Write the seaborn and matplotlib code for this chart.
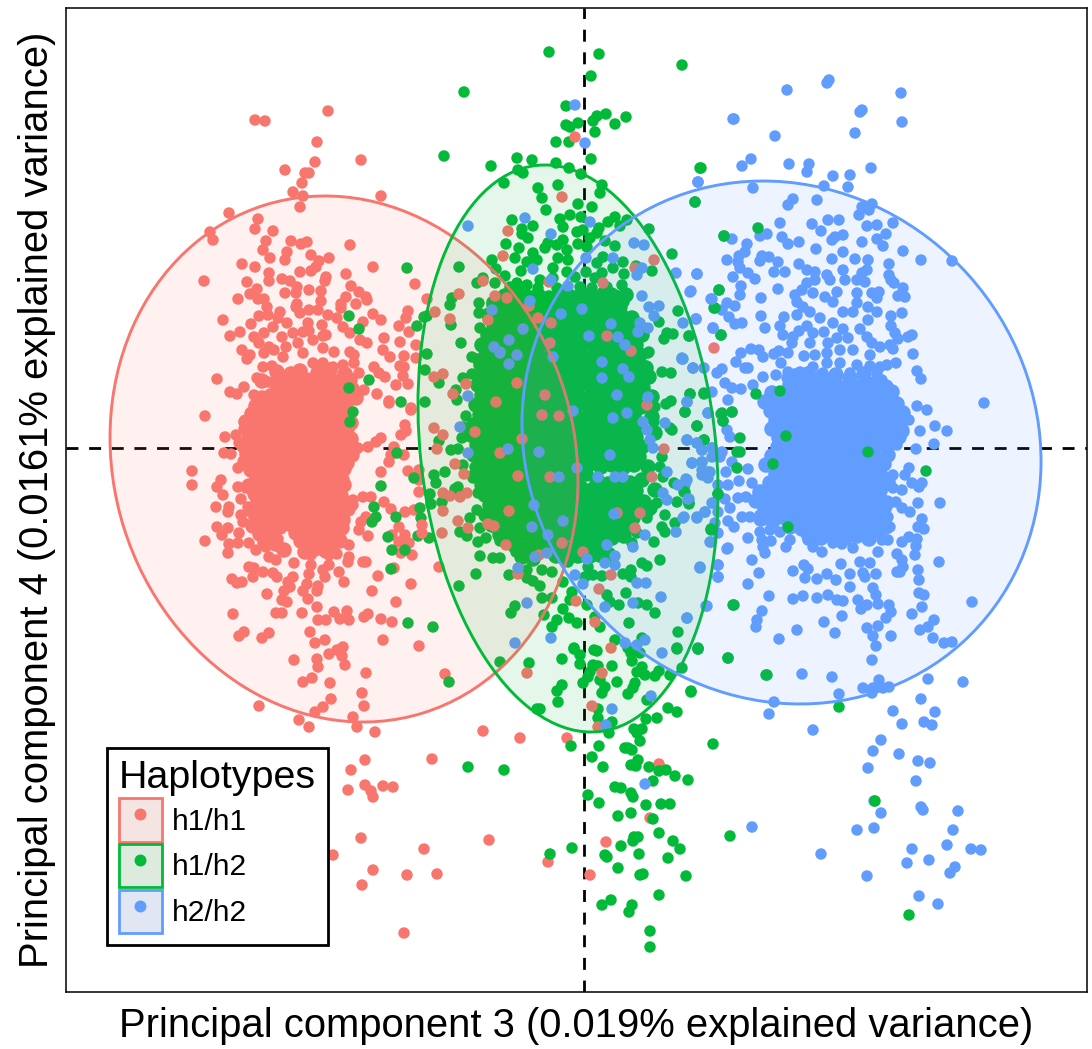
import numpy as np
import pandas as pd
import matplotlib
matplotlib.use("Agg")
import matplotlib.pyplot as plt
import seaborn as sns
from matplotlib.lines import Line2D
from matplotlib.patches import Ellipse, Patch
from matplotlib.legend_handler import HandlerTuple

# points as (x, y) picture positions, turned into scores below
h1h1_core = [
(277,372),(291,374),(300,371),(318,373),(330,370),(345,374),(262,381),(276,383),(284,379),(296,382),(307,380),(316,383),(327,379),(338,382),(350,380),
(282,390),(291,388),(301,391),(311,389),(320,392),(331,388),(341,391),(352,389),(262,398),(273,400),(286,397),(295,399),(305,396),(314,400),(325,398),(335,396),(344,400),(356,398),
(256,406),(266,408),(276,405),(285,407),(296,404),(306,408),(317,405),(326,407),(337,404),(346,408),(252,414),(262,412),(272,415),(282,413),(291,416),(301,412),(311,415),(321,413),(330,416),(340,412),(348,415),
(246,422),(256,424),(266,421),(275,423),(285,420),(295,424),(305,421),(314,423),(324,420),(333,424),(343,421),(351,423),(252,430),(261,432),(271,429),(280,431),(290,428),(300,432),(309,429),(319,431),(328,428),(338,432),(347,429),
(249,438),(258,440),(267,437),(277,439),(286,436),(296,440),(305,437),(315,439),(324,436),(334,440),(343,437),(351,439),(244,446),(254,448),(263,445),(272,447),(282,444),(292,448),(301,445),(311,447),(320,444),(330,448),(339,445),(348,447),
(247,454),(257,456),(267,453),(276,455),(286,452),(295,456),(305,453),(314,455),(324,452),(333,456),(343,453),(352,455),(245,462),(253,464),(262,461),(272,463),(281,460),(291,464),(300,461),(310,463),(319,460),(329,464),(338,461),(347,463),
(251,470),(259,472),(269,469),(278,471),(288,468),(297,472),(307,469),(316,471),(326,468),(335,472),(344,469),(257,478),(266,480),(276,477),(285,479),(295,476),(304,480),(314,477),(323,479),(333,476),(342,480),
(249,486),(261,488),(270,485),(280,487),(289,484),(299,488),(308,485),(318,487),(327,484),(337,488),(344,485),(255,494),(265,496),(274,493),(284,495),(293,492),(303,496),(312,493),(322,495),(331,492),(341,496),
(258,502),(268,504),(278,501),(287,503),(297,500),(306,504),(316,501),(325,503),(335,500),(344,504),(251,510),(262,512),(272,509),(281,511),(291,508),(300,512),(310,509),(319,511),(329,508),(339,512),(348,509),
(256,518),(267,520),(276,517),(286,519),(295,516),(305,520),(314,517),(324,519),(333,516),(343,520),(253,526),(262,528),(272,525),(280,527),(290,524),(300,528),(310,525),(320,527),(330,524),(342,528),
(260,534),(270,536),(296,533),(306,537),(316,534),(326,536),(338,533),(265,542),(276,544),(301,541),(312,545),(322,542),(332,544),(340,541),(284,550),(305,552),(315,549),(326,551),
]
h1h1_pts = [
(328,111),(255,120),(265,121),(317,142),(315,162),(361,160),(285,170),(305,173),(309,173),(302,183),(293,192),(303,196),(381,196),(300,207),(229,213),(258,219),(210,232),(213,240),(255,229),(273,231),
(266,241),(263,250),(270,258),(291,241),(301,244),(307,242),(287,252),(285,260),(311,255),(319,261),(329,258),(350,245),(242,264),(255,267),(269,273),(269,281),(373,267),(346,274),(204,281),(247,282),
(300,272),(311,271),(316,267),(326,277),(325,281),(282,279),(290,281),(351,286),(359,292),(366,297),(367,300),(415,284),(257,289),(250,294),(238,299),(258,299),(264,299),(297,287),(285,293),(296,293),
(309,290),(321,291),(321,301),(346,297),(341,304),(341,308),(356,304),(297,304),(296,307),(267,307),(280,312),(268,315),(259,316),(278,318),(309,310),(318,310),(328,315),(337,318),(373,314),(381,320),
(363,322),(408,311),(406,318),(399,326),(409,332),(223,320),(251,324),(287,323),(300,313),(308,323),(322,325),(343,327),(350,333),(240,332),(230,336),(254,337),(264,333),(273,327),(282,337),(293,333),
(303,332),(309,331),(323,336),(326,335),(313,340),(360,340),(367,343),(384,338),(400,342),(416,345),(383,350),(390,357),(404,356),(416,358),(242,350),(250,355),(247,359),(259,343),(269,347),(264,353),
(274,350),(286,347),(298,343),(283,357),(303,353),(323,348),(334,352),(350,352),(354,355),(354,363),(400,366),(404,367),(403,376),(408,384),(396,385),(374,367),(379,373),(385,377),(359,373),(263,367),
(272,366),(257,378),(268,382),(343,365),(333,367),(323,363),(313,363),(217,379),(244,387),(230,392),(237,394),(254,395),(270,394),(377,394),(389,401),(411,408),(364,390),(349,382),(328,387),
(205,416),(411,410),(405,425),(406,431),(401,435),(389,403),(225,437),(244,429),(236,435),(239,443),(248,440),(224,453),(231,454),(238,468),(192,471),(192,485),(221,480),(217,487),(223,495),(216,507),
(229,507),(228,512),(238,487),(246,488),(241,499),(248,507),(241,515),(243,522),(217,527),(228,528),(222,535),(239,533),(205,541),(229,544),(238,543),(228,553),(249,543),(256,550),(266,547),(278,539),
(269,557),(276,560),(294,563),(311,565),(311,555),(329,555),(337,554),(349,557),(348,562),(349,545),(363,562),(366,562),(249,567),(254,568),(253,577),(263,572),(273,573),(277,577),(232,579),(237,583),
(242,582),(293,577),(288,582),(290,587),(284,591),(309,574),(307,584),(303,591),(318,586),(317,591),(323,570),(329,565),(339,572),(325,577),(344,582),(267,594),(282,600),(287,602),(308,599),(317,607),
(233,614),(276,613),(282,613),(302,613),(334,612),(347,611),(340,619),(349,620),(318,620),(326,620),(368,614),(364,617),(381,619),(392,622),(372,591),(378,576),(411,584),(396,602),(414,510),(405,512),
(239,636),(244,632),(262,638),(269,633),(310,632),(315,643),(325,640),(383,640),(419,646),(343,647),(337,650),(329,654),(342,656),(345,665),(294,660),(317,659),(318,667),(366,673),(303,682),(312,678),
(330,683),(362,693),(331,699),(364,706),(259,706),(315,712),(323,707),(353,717),(299,720),(309,727),(357,727),(375,732),(404,455),(391,455),(394,447),(376,442),(381,438),(368,447),(358,448),(389,462),
(381,472),(408,471),(419,470),(419,492),(419,480),(363,497),(371,497),(353,500),(353,505),(384,502),(391,509),(366,517),(361,522),(359,530),(368,536),(399,527),(405,535),(399,542),(409,543),(401,553),
(412,555),(394,568),(392,535),(445,674),(483,731),(520,738),(432,759),(365,760),(351,770),(348,790),(365,785),(371,791),(373,797),(383,786),(393,787),(361,838),(489,840),(424,849),(333,855),(373,870),
(407,875),(437,874),(362,885),(404,933),(548,862),(567,738),(659,764),(650,818),(606,842),(590,875),
]
h2h2_core = [
(795,376),(808,374),(822,377),(836,375),(850,378),(864,374),(790,385),(802,383),(814,386),(826,384),(838,387),(850,383),(862,386),(874,384),(886,387),(772,393),(784,395),(796,392),(808,395),(820,393),(832,396),(844,392),(856,395),(868,393),(880,396),(892,392),
(765,402),(777,404),(789,401),(801,404),(813,402),(825,405),(837,401),(849,404),(861,402),(873,405),(885,401),(897,404),(771,411),(783,413),(795,410),(807,413),(819,411),(831,414),(843,410),(855,413),(867,411),(879,414),(891,410),(903,413),
(776,420),(788,422),(800,419),(812,422),(824,420),(836,423),(848,419),(860,422),(872,420),(884,423),(896,419),(772,429),(784,431),(796,428),(808,431),(820,429),(832,432),(844,428),(856,431),(868,429),(880,432),(892,428),(902,431),
(779,438),(791,440),(803,437),(815,440),(827,438),(839,441),(851,437),(863,440),(875,438),(887,441),(899,437),(778,447),(790,449),(802,446),(814,449),(826,447),(838,450),(850,446),(862,449),(874,447),(886,445),
(772,456),(784,458),(796,455),(808,458),(820,456),(832,459),(844,455),(856,458),(868,456),(880,459),(888,455),(766,465),(778,467),(790,464),(802,467),(814,465),(826,468),(838,464),(850,467),(862,465),(874,468),(884,464),
(776,474),(788,476),(800,473),(812,476),(824,474),(836,477),(848,473),(860,476),(872,474),(882,477),(770,483),(782,485),(794,482),(806,485),(818,483),(830,486),(842,482),(854,485),(866,483),(878,486),(888,482),
(760,492),(772,494),(784,491),(796,494),(808,492),(820,495),(832,491),(844,494),(856,492),(868,495),(880,491),(756,501),(768,503),(780,500),(792,503),(804,501),(816,504),(828,500),(840,503),(852,501),(864,504),(876,500),(887,503),
(765,510),(777,512),(789,509),(801,512),(813,510),(825,513),(837,509),(849,512),(861,510),(873,513),(884,509),(761,519),(773,521),(785,518),(797,521),(809,519),(821,522),(833,518),(845,521),(857,519),(869,522),(880,518),
(790,527),(802,529),(814,526),(826,529),(838,527),(850,530),(862,526),(874,529),(886,527),(809,536),(821,538),(833,535),(845,538),(857,536),(869,539),
]
h2h2_pts = [
(787,90),(827,83),(829,80),(901,93),(860,112),(862,110),(733,119),(902,122),(855,133),(775,136),(751,159),(742,166),(789,164),(809,164),(807,172),(833,176),(850,175),(871,168),(698,182),(753,188),
(824,186),(848,187),(793,199),(788,205),(817,200),(862,207),(872,204),(869,210),(859,215),(780,223),(812,224),(828,220),(839,220),(821,231),(867,226),(877,225),(893,223),(760,236),(767,234),(782,237),
(788,244),(799,242),(732,239),(747,244),(832,240),(835,237),(843,235),(862,242),(877,239),(886,234),(883,246),(745,252),(739,256),(727,260),(738,262),(760,261),(762,256),(769,257),(778,262),(816,249),
(843,252),(832,259),(855,259),(868,260),(903,251),(921,260),(952,261),(889,264),(740,268),(748,273),(755,279),(733,277),(697,274),(774,272),(785,272),(799,264),(807,270),(843,270),(867,270),(862,273),
(889,275),(891,280),(894,283),(741,286),(778,289),(691,291),(815,272),(827,275),(815,280),(807,283),(830,280),(845,280),(857,280),(865,282),(903,288),(711,299),(740,295),(727,303),(735,306),(761,298),
(795,295),(802,290),(813,293),(825,297),(837,292),(857,293),(879,292),(872,293),(898,296),(905,297),(877,298),(722,310),(729,317),(761,316),(797,302),(803,307),(797,315),(810,312),(820,318),(833,302),
(843,312),(857,303),(868,307),(877,312),(853,312),(891,316),(902,313),(696,319),(735,324),(742,323),(713,328),(784,317),(765,328),(780,326),(783,335),(807,326),(799,331),(813,333),(824,332),(833,323),
(843,329),(860,329),(868,320),(891,326),(895,333),(898,339),(908,337),(912,335),(793,337),(792,343),(810,343),(867,337),(872,343),(880,347),(890,345),(893,349),(848,338),(837,338),(828,343),(741,353),
(751,349),(759,350),(763,357),(736,362),(774,354),(779,351),(788,353),(781,363),(804,356),(870,355),(913,354),(815,355),(827,353),(840,350),(853,350),(683,359),(693,368),(704,368),(722,369),(717,373),
(745,368),(748,368),(788,372),(800,372),(813,367),(827,363),(840,363),(857,365),(870,366),(880,367),(887,365),(896,363),(917,371),(921,379),(725,383),(732,388),(741,389),(712,392),(753,385),(763,377),
(776,375),(787,378),(797,380),(810,377),(823,373),(837,373),(850,373),(863,375),(882,380),(877,373),(728,400),(687,402),(984,403),(917,406),(927,410),(935,426),(947,431),(920,431),(934,444),(916,449),
(909,420),(902,423),(900,433),(897,445),(887,422),(708,413),(727,430),(730,437),(687,440),(697,443),(702,450),(712,448),(722,452),(720,457),(692,463),(702,462),(732,462),(702,470),(710,472),(708,478),
(726,472),(748,469),(739,481),(728,485),(718,485),(686,479),(685,485),(909,468),(905,475),(893,475),(912,483),(922,483),(919,487),(902,490),(893,488),(883,488),(752,483),(725,499),(738,498),(746,497),
(730,508),(689,499),(713,503),(757,502),(940,503),(918,503),(910,512),(902,508),(896,502),(922,519),(918,527),(924,529),(705,512),(697,517),(684,517),(718,512),(728,521),(734,527),(742,517),(750,517),
(760,515),(770,515),(775,517),(715,523),(718,533),(711,542),(728,548),(748,538),(760,532),(770,530),(780,532),(762,540),(771,541),(763,547),(765,553),(790,540),(786,547),(813,547),(822,552),(808,540),
(833,543),(842,544),(853,548),(857,535),(870,540),(882,540),(888,540),(878,552),(880,533),(890,527),(888,517),(902,542),(909,537),(917,539),(916,546),(915,555),(897,554),(902,560),(903,567),(897,572),
(900,572),(918,570),(919,580),(752,560),(718,565),(700,568),(718,577),(759,573),(748,584),(804,565),(808,569),(793,571),(805,578),(817,579),(827,574),(836,580),(841,564),(850,574),(860,562),(870,563),
(863,573),(865,577),(876,574),(850,587),(873,588),(939,562),(769,596),(793,599),(803,596),(817,598),(828,595),(837,600),(843,601),(858,600),(876,595),(878,604),(867,605),(861,609),(889,605),(891,612),
(919,593),(924,595),(922,607),(972,602),(912,614),(706,606),(762,611),(842,616),(886,618),(934,620),(928,627),(920,630),(687,618),(757,620),(756,627),(797,630),(824,622),(835,633),(867,628),(878,626),
(873,636),(891,636),(779,639),(876,646),(933,638),(944,643),(952,642),(872,660),(802,674),(832,677),(879,680),(863,688),(873,688),(883,688),(889,687),(872,693),(839,694),(928,679),(963,682),(774,702),
(769,714),(921,699),(893,711),(935,712),(902,724),(924,722),(932,725),(813,730),(881,740),(873,751),(868,768),(899,754),(918,761),(930,763),(916,781),(752,827),(921,807),(923,810),(958,811),(874,801),
(881,813),(857,830),(874,828),(953,830),(947,845),(912,849),(971,849),(981,850),(821,854),(907,863),(929,860),(955,867),(950,873),(867,876),(919,896),(938,904),
]
h1h2_core = [
(505,296),(516,294),(527,297),(538,295),(549,298),(560,294),(571,297),(582,295),(593,298),(604,294),(615,297),(626,295),(494,305),(505,307),(516,304),(527,307),(538,305),(549,308),(560,304),(571,307),(582,305),(593,308),(604,304),(615,307),
(489,315),(500,317),(511,314),(522,317),(533,315),(544,318),(555,314),(566,317),(577,315),(588,318),(599,314),(610,317),(621,315),(632,318),(494,325),(505,327),(516,324),(527,327),(538,325),(549,328),(560,324),(571,327),(582,325),(593,328),(604,324),(615,327),(626,325),
(488,335),(499,337),(510,334),(521,337),(532,335),(543,338),(554,334),(565,337),(576,335),(587,338),(598,334),(609,337),(620,335),(631,338),(642,335),(482,345),(493,347),(504,344),(515,347),(526,345),(537,348),(548,344),(559,347),(570,345),(581,348),(592,344),(603,347),(614,345),(625,348),(636,345),
(486,355),(497,357),(508,354),(519,357),(530,355),(541,358),(552,354),(563,357),(574,355),(585,358),(596,354),(607,357),(618,355),(629,358),(640,355),(481,365),(492,367),(503,364),(514,367),(525,365),(536,368),(547,364),(558,367),(569,365),(580,368),(591,364),(602,367),(613,365),(624,368),(635,365),(646,368),
(484,375),(495,377),(506,374),(517,377),(528,375),(539,378),(550,374),(561,377),(572,375),(583,378),(594,374),(605,377),(616,375),(627,378),(638,375),(649,377),(478,385),(489,387),(500,384),(511,387),(522,385),(533,388),(544,384),(555,387),(566,385),(577,388),(588,384),(599,387),(610,385),(621,388),(632,385),(643,388),
(482,395),(493,397),(504,394),(515,397),(526,395),(537,398),(548,394),(559,397),(570,395),(581,398),(592,394),(603,397),(614,395),(625,398),(636,395),(652,397),(476,405),(487,407),(498,404),(509,407),(520,405),(531,408),(542,404),(553,407),(564,405),(575,408),(586,404),(597,407),(608,405),(619,408),(630,405),(641,407),
(480,415),(491,417),(502,414),(513,417),(524,415),(535,418),(546,414),(557,417),(568,415),(579,418),(590,414),(601,417),(612,415),(623,418),(634,415),(652,417),(474,425),(485,427),(496,424),(507,427),(518,425),(529,428),(540,424),(551,427),(562,425),(573,428),(584,424),(595,427),(606,425),(617,428),(628,425),(639,427),
(471,435),(482,437),(493,434),(504,437),(515,435),(526,438),(537,434),(548,437),(559,435),(570,438),(581,434),(592,437),(603,435),(614,438),(625,435),(636,437),(655,433),(477,445),(488,447),(499,444),(510,447),(521,445),(532,448),(543,444),(554,447),(565,445),(576,448),(587,444),(598,447),(609,445),(620,448),(631,445),(642,447),
(474,455),(485,457),(496,454),(507,457),(518,455),(529,458),(540,454),(551,457),(562,455),(573,458),(584,454),(595,457),(606,455),(617,458),(628,455),(639,457),(480,465),(491,467),(502,464),(513,467),(524,465),(535,468),(546,464),(557,467),(568,465),(579,468),(590,464),(601,467),(612,465),(623,468),(634,465),(648,467),
(476,475),(487,477),(498,474),(509,477),(520,475),(531,478),(542,474),(553,477),(564,475),(575,478),(586,474),(597,480),(608,484),(619,486),(630,483),(642,480),(482,485),(493,487),(504,484),(515,487),(526,485),(537,488),(548,484),(559,487),(570,485),(581,488),(592,490),(603,492),(614,494),(625,493),(636,491),(655,490),
(485,495),(496,497),(507,494),(518,497),(529,495),(540,498),(551,494),(562,497),(573,495),(584,498),(596,501),(608,503),(620,502),(632,500),(644,502),(490,505),(501,507),(512,504),(523,507),(534,505),(545,508),(556,504),(567,507),(578,505),(589,510),(601,512),(613,512),(625,511),(637,510),(650,508),
(486,515),(497,517),(508,514),(519,517),(530,515),(541,518),(552,514),(563,517),(574,515),(585,519),(597,521),(609,521),(621,520),(633,518),(492,525),(503,527),(514,524),(525,527),(536,525),(547,528),(558,524),(569,527),(580,525),(591,529),(603,530),(615,530),(627,527),
(500,535),(511,537),(522,534),(533,537),(544,535),(555,538),(566,534),(577,537),(588,535),(600,539),(612,538),(624,536),(515,546),(526,548),(537,545),(548,548),(559,546),(570,549),(581,545),(592,548),(604,546),(522,557),(533,559),(556,556),(567,559),(578,556),(590,556),(600,555),
]
h1h2_pts = [
(549,52),(599,54),(682,65),(591,76),(464,92),(566,106),(626,117),(606,114),(597,116),(593,121),(615,124),(578,123),(570,127),(566,125),(595,132),(556,142),(569,142),(444,156),(517,158),(532,160),
(591,159),(556,163),(491,166),(569,168),(518,170),(523,173),(581,174),(701,168),(504,183),(538,188),(558,185),(602,185),(600,193),(542,198),(578,204),(592,207),(695,202),(546,210),(570,215),(560,219),
(581,217),(615,217),(608,222),(627,220),(512,220),(533,226),(563,227),(522,229),(522,234),(577,232),(583,230),(599,228),(597,233),(620,226),(649,229),(724,236),(528,238),(506,244),(563,240),(548,243),
(578,244),(590,238),(605,241),(615,246),(672,254),(519,248),(515,258),(533,253),(545,248),(557,245),(567,250),(587,247),(603,257),(492,260),(537,260),(558,258),(568,260),(623,262),(459,267),(496,269),
(521,271),(527,262),(553,268),(567,272),(586,272),(597,263),(602,273),(613,268),(624,274),(652,271),(636,266),(505,276),(483,278),(477,283),(495,283),(517,283),(527,285),(540,280),(553,278),(575,277),
(595,278),(622,285),(607,287),(510,287),(520,292),(538,288),(557,288),(580,287),(719,290),(592,288),(612,293),(452,298),(450,305),(479,303),(479,313),(427,316),(451,325),(480,328),(492,302),(498,317),
(507,307),(507,327),(497,333),(461,343),(427,354),(472,357),(488,347),(498,342),(517,342),(678,311),(659,322),(673,334),(667,333),(664,339),(689,336),(721,335),(715,308),(649,352),(631,327),(632,342),
(622,307),(624,302),(477,359),(648,353),(425,370),(662,372),(671,373),(642,373),(645,366),(472,374),(463,378),(439,383),(438,378),(483,382),(456,390),(457,400),(425,402),(690,394),(704,393),(671,401),
(666,404),(685,412),(655,407),(466,416),(722,413),(723,421),(732,412),(697,426),(463,427),(479,429),(484,421),(654,422),(670,428),(672,430),(704,440),(439,441),(462,438),(451,450),(458,449),(737,452),
(463,465),(445,472),(434,475),(436,483),(458,487),(455,489),(475,467),(473,478),(478,493),(477,510),(430,494),(442,502),(431,504),(470,518),(460,532),(467,536),(480,528),(478,542),(486,538),(429,538),
(480,556),(493,558),(500,558),(516,552),(500,541),(476,574),(509,575),(459,586),(527,570),(527,578),(533,581),(540,586),(542,570),(552,572),(433,627),(662,457),(660,467),(663,477),(674,483),(684,492),
(677,502),(689,503),(657,503),(665,515),(675,523),(662,527),(665,532),(648,513),(647,518),(633,527),(637,533),(632,543),(654,542),(711,529),(718,494),(733,605),(660,560),(642,563),(647,566),(631,570),
(623,574),(631,577),(610,553),(612,560),(588,567),(585,577),(593,575),(602,576),(568,562),(563,582),(572,592),(570,600),(552,598),(542,598),(626,593),(607,595),(610,602),(619,605),(638,603),(647,605),
(655,613),(515,606),(511,613),(544,615),(563,609),(557,620),(569,618),(577,623),(552,627),(587,605),(600,627),(595,617),(629,623),(678,632),(615,640),(642,638),(574,648),(594,650),(628,648),(677,648),(698,648),
(574,649),(597,651),(562,659),(580,655),(580,664),(631,653),(677,649),(698,649),(728,658),(640,653),(632,661),(612,666),(593,665),(598,666),(590,672),(588,677),(583,683),(600,680),(617,682),(642,667),
(637,672),(645,675),(655,676),(659,671),(670,675),(682,668),(766,675),(562,685),(557,691),(635,683),(605,687),(633,688),(602,693),(628,694),(558,702),(691,691),(647,700),(839,707),(668,708),(677,712),
(598,709),(540,709),(646,719),(657,718),(598,718),(612,722),(634,729),(642,729),(609,733),(637,733),(640,741),(571,746),(599,746),(713,744),(625,748),(628,748),(632,750),(592,757),(638,760),(603,767),
(631,765),(636,766),(649,767),(659,771),(666,770),(675,776),(688,780),(653,781),(615,787),(621,788),(631,793),(633,797),(588,795),(599,803),(646,805),(661,804),(670,804),(631,813),(618,816),(653,819),
(659,833),(730,836),(673,841),(638,837),(634,837),(633,841),(621,846),(572,848),(550,854),(680,849),(605,855),(607,857),(639,854),(668,858),(618,868),(640,875),(643,874),(686,876),(659,895),(611,900),
(602,905),(632,905),(629,912),(650,931),(650,947),(875,801),(909,915),(500,662),(529,663),(449,682),(537,709),(468,767),(504,770),
(407,268),(349,316),(359,329),(369,380),(349,388),(417,326),(401,402),(424,317),(353,412),(350,422),(397,453),(381,486),(374,507),(376,517),(372,522),(396,517),(388,537),(392,550),(391,569),(408,623),
(405,550),(420,508),(421,518),(418,536),(414,478),(700,168),(695,202),(758,228),(724,236),(719,290),(714,308),(721,335),(689,336),(690,394),(704,394),(756,394),(780,391),(685,412),(721,414),(732,412),
(723,421),(697,426),(704,440),(740,438),(740,452),(868,452),(926,471),(737,468),(773,464),(786,436),(685,492),(689,504),(718,494),(788,527),(711,530),(734,605),(698,649),(728,658),(767,675),(691,692),
]
# these ones sit on top of the green cloud
h1h1_top = [
(575,137),(562,197),(508,231),(503,256),(654,260),(635,268),(549,282),(483,281),(459,294),(495,296),(507,298),(427,299),(435,312),(450,319),(488,320),(538,318),(551,323),(529,306),(607,336),(631,351),
(714,348),(550,343),(603,283),(443,374),(434,377),(466,384),(453,394),(496,402),(517,383),(545,395),(542,415),(559,416),(647,405),(434,428),(443,435),(437,449),(475,432),(522,439),(500,453),(664,449),
(455,464),(464,474),(518,476),(652,477),(443,493),(450,496),(460,497),(467,493),(443,511),(509,511),(458,521),(488,524),(494,526),(468,528),(442,533),(422,525),(422,533),(635,528),(506,545),(562,543),
(539,555),(583,552),(439,567),(518,574),(611,575),(599,589),(576,601),(595,622),(611,648),(550,477),(640,513),(617,513),(527,673),(602,673),(592,706),(598,727),
]
h2h2_top = [
(575,105),(585,143),(468,226),(525,218),(590,222),(551,234),(533,269),(586,258),(613,258),(634,243),(644,245),(698,182),(734,119),(642,268),(637,275),(551,280),(568,286),(642,296),(530,301),(649,307),
(659,306),(654,316),(492,310),(582,309),(561,314),(611,324),(640,323),(648,328),(683,323),(696,319),(589,336),(618,337),(638,332),(625,345),(523,329),(494,347),(500,352),(509,340),(517,355),(553,357),
(682,358),(676,273),(697,274),(690,292),(712,299),(713,328),(682,359),(693,368),(500,353),(509,364),(602,362),(623,369),(629,377),(602,378),(468,396),(617,395),(648,397),(687,402),(573,411),(613,418),
(627,413),(643,422),(665,423),(647,430),(460,427),(708,413),(539,452),(508,449),(468,453),(610,455),(653,448),(650,440),(687,440),(697,443),(702,450),(712,448),(692,463),(702,462),(712,457),(577,468),
(598,477),(615,477),(623,477),(559,477),(667,472),(687,480),(678,485),(708,472),(702,475),(663,493),(667,500),(688,499),(712,503),(705,512),(697,518),(683,518),(614,514),(534,505),(563,521),(532,527),
(548,535),(676,532),(645,535),(633,547),(547,553),(535,557),(587,559),(607,545),(605,563),(615,556),(615,565),(700,567),(718,565),(718,577),(727,549),(710,542),(518,568),(575,575),(583,584),(637,583),
(646,583),(661,597),(527,603),(605,607),(633,603),(707,606),(687,618),(551,638),(515,643),(625,643),(645,640),(637,645),(662,653),(651,696),(612,709),(606,725),(645,784),
]

groups = ["h1/h1", "h1/h2", "h2/h2"]
colors = ["#F8766D", "#00BA38", "#619CFF"]
key_fills = ["#F4E4E2", "#DCEBDD", "#E0E7F3"]

# draw order matters, seaborn keeps the row order
layers = [
    ("h1/h1", "core", h1h1_core),
    ("h1/h1", "single", h1h1_pts),
    ("h2/h2", "core", h2h2_core),
    ("h2/h2", "single", h2h2_pts),
    ("h1/h2", "core", h1h2_core),
    ("h1/h2", "single", h1h2_pts),
    ("h1/h1", "single", h1h1_top),
    ("h2/h2", "single", h2h2_top),
]
frames = []
for name, kind, pts in layers:
    d = pd.DataFrame(pts, columns=["px", "py"])
    d["haplotype"] = name
    d["kind"] = kind
    frames.append(d)
df = pd.concat(frames, ignore_index=True)
df["pc3"] = df["px"] - 584.0
df["pc4"] = 448.0 - df["py"]

# 95% ellipses: centre, full axes, angle
ell_center = [(344, 459), (568, 448.5), (781.5, 442.5)]
ell_width = [532, 569.6, 539.4]
ell_height = [461.2, 295.2, 502]
ell_angle = [-72.6, -83.65, -48]

W, H = 1092, 1049
sns.set_style("white")
plt.rcParams["font.family"] = ["Liberation Sans", "DejaVu Sans"]
plt.rcParams["text.color"] = "black"
plt.rcParams["axes.labelcolor"] = "black"

fig = plt.figure(figsize=(W / 100, H / 100), dpi=100)
ax = fig.add_axes([66 / W, 1 - 992 / H, (1087 - 66) / W, (992 - 8) / H])

ax.axhline(0, color="black", lw=2, dashes=(4.3, 3.85), zorder=1)
ax.axvline(0, color="black", lw=2, dashes=(4.3, 3.85), zorder=1)

# the dense middles are drawn with wider dots so the clouds close up
sns.scatterplot(data=df, x="pc3", y="pc4", hue="haplotype", hue_order=groups, palette=colors,
                size="kind", sizes={"core": 125, "single": 68}, linewidth=0, alpha=1,
                legend=False, ax=ax, zorder=2)

for i in range(3):
    cx, cy = ell_center[i]
    ax.add_patch(Ellipse((cx - 584, 448 - cy), ell_width[i], ell_height[i], angle=ell_angle[i],
                         facecolor=matplotlib.colors.to_rgba(colors[i], 0.1),
                         edgecolor=colors[i], lw=2.1, zorder=3))

ax.set_xlim(66 - 584, 1087 - 584)
ax.set_ylim(448 - 992, 448 - 8)
ax.set_xticks([])
ax.set_yticks([])
ax.set_xlabel("Principal component 3 (0.019% explained variance)", fontsize=28.8, labelpad=11)
ax.set_ylabel("Principal component 4 (0.0161% explained variance)", fontsize=28.8, labelpad=7)
for s in ax.spines.values():
    s.set_visible(True)
    s.set_color("black")
    s.set_linewidth(1.1)

handles = []
for i in range(3):
    box = Patch(facecolor=key_fills[i], edgecolor=colors[i], lw=2)
    dot = Line2D([], [], marker="o", color=colors[i], ls="", ms=8.6, mew=0)
    handles.append((box, dot))
leg = ax.legend(handles, groups, title="Haplotypes", loc="lower left",
                bbox_to_anchor=(107 / W, 1 - 945 / H), bbox_transform=fig.transFigure,
                handler_map={tuple: HandlerTuple(ndivide=1, pad=0)},
                fontsize=21.6, title_fontsize=28.4, alignment="left",
                handlelength=1.43, handleheight=1.83, handletextpad=0.32, labelspacing=0.09,
                borderaxespad=0, borderpad=0.4, fancybox=False, framealpha=1, edgecolor="black")
leg.get_frame().set_linewidth(2)
leg.set_zorder(5)

fig.savefig("out.png", dpi=100)
